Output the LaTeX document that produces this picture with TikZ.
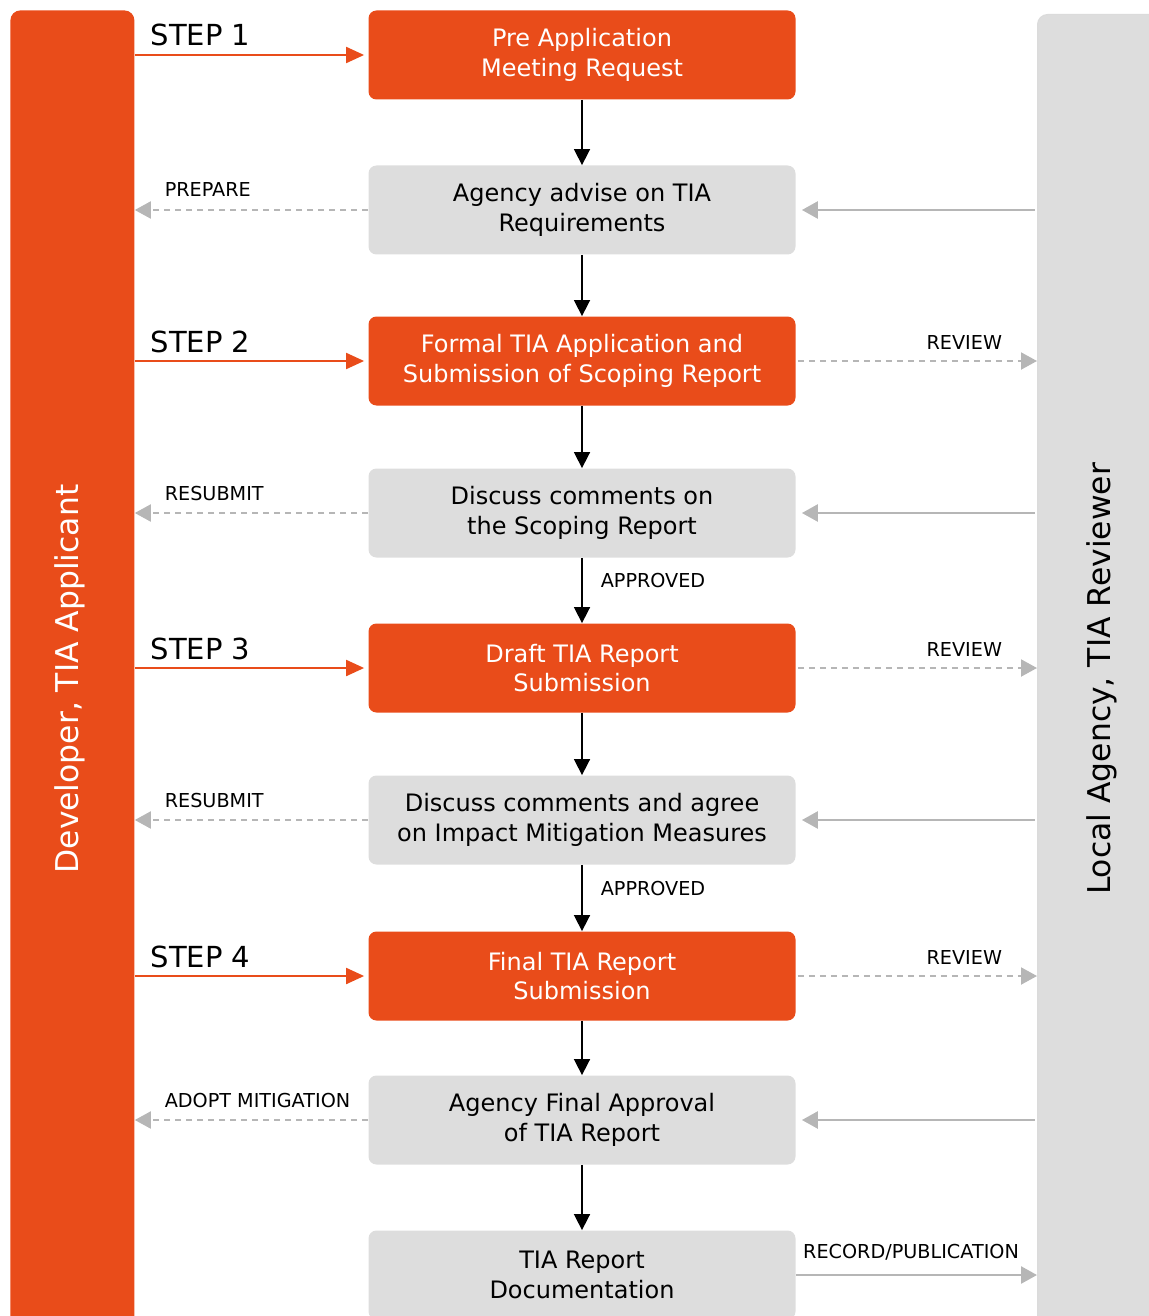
\documentclass[tikz,border=0pt]{standalone}
\usepackage{fontspec}
\setmainfont{DejaVu Sans}
\usetikzlibrary{arrows.meta,positioning}
\definecolor{tiaorange}{RGB}{233,76,26}
\definecolor{tiagray}{RGB}{221,221,221}
\definecolor{tiaarrow}{RGB}{182,182,182}
\tikzset{
  obox/.style={fill=tiaorange, text=white, rounded corners=4pt, minimum width=213.5pt, minimum height=44.5pt, inner sep=0pt, align=center, font=\fontsize{12}{14.75}\selectfont},
  gbox/.style={obox, fill=tiagray, text=black},
  bar/.style={anchor=north west, minimum width=62pt, minimum height=670pt, rounded corners=5pt},
  flow/.style={-{Triangle[length=8pt,width=8pt]}, line width=0.8pt, black},
  stepline/.style={-{Triangle[length=9pt,width=8pt]}, line width=1pt, tiaorange, shorten >=2pt},
  backline/.style={-{Triangle[length=8pt,width=8.5pt]}, line width=1pt, tiaarrow, dash pattern=on 3pt off 2.5pt},
  revline/.style={-{Triangle[length=8pt,width=8.5pt]}, line width=1.3pt, tiaarrow},
  steplbl/.style={font=\fontsize{14.5}{17}\selectfont, inner sep=0pt, text=black},
  lbl/.style={font=\fontsize{9.6}{11}\selectfont, inner sep=0pt, text=black},
  side/.style={rotate=90, font=\fontsize{15.7}{18}\selectfont, inner sep=0pt}
}
\begin{document}
\begin{tikzpicture}[x=0.5pt,y=-0.5pt]
  \useasboundingbox (0,0) rectangle (1149,1316);
  \clip (0,0) rectangle (1149,1316);
  % side bars
  \node[bar, fill=tiaorange] (dev) at (10,10) {};
  \node[bar, minimum width=64pt, fill=tiagray, draw=black!14, line width=0.5pt] (rev) at (1037,14) {};
  \node[side, text=white] (devtxt) at (70,679) {Developer, TIA Applicant};
  \node[side] (revtxt) at (1102,679) {Local Agency, TIA Reviewer};
  % process boxes
  \node[obox] (pre) at (582,55) {Pre Application\\Meeting Request};
  \node[gbox] (adv) at (582,210) {Agency advise on TIA\\Requirements};
  \node[obox] (formal) at (582,361) {Formal TIA Application and\\Submission of Scoping Report};
  \node[gbox] (scop) at (582,513) {Discuss comments on\\the Scoping Report};
  \node[obox] (draft) at (582,668) {Draft TIA Report\\Submission};
  \node[gbox] (mitig) at (582,820) {Discuss comments and agree\\on Impact Mitigation Measures};
  \node[obox] (final) at (582,976) {Final TIA Report\\Submission};
  \node[gbox] (appr) at (582,1120) {Agency Final Approval\\of TIA Report};
  \node[gbox] (doc) at (582,1275) {TIA Report\\Documentation};
  % main flow
  \foreach \a/\b in {pre/adv,adv/formal,formal/scop,draft/mitig,final/appr,appr/doc}{\draw[flow] (\a) -- (\b);}
  \draw[flow] (scop) -- node[lbl, right, xshift=9pt, pos=0.35]{APPROVED} (draft);
  \draw[flow] (mitig) -- node[lbl, right, xshift=9pt, pos=0.35]{APPROVED} (final);
  % developer side
  \foreach \b/\n in {pre/1,formal/2,draft/3,final/4}{
    \draw[stepline] (dev.east |- \b.west) -- (\b.west) node[steplbl, anchor=base west, pos=0, xshift=7.5pt, yshift=4.5pt]{STEP \n};}
  \foreach \b/\t in {adv/PREPARE,scop/RESUBMIT,mitig/RESUBMIT,appr/ADOPT MITIGATION}{
    \draw[backline] (\b.west) -- (dev.east |- \b.west) node[lbl, anchor=base west, pos=1, xshift=14.5pt, yshift=6.5pt]{\t};}
  % reviewer side
  \foreach \b in {adv,scop,mitig,appr}{\draw[revline, shorten <=1pt, shorten >=3pt] (rev.west |- \b.east) -- (\b.east);}
  \foreach \b in {formal,draft,final}{
    \draw[backline, shorten <=1pt] (\b.east) -- (rev.west |- \b.east) node[lbl, anchor=base east, pos=1, xshift=-17pt, yshift=6pt]{REVIEW};}
  \draw[revline] (doc.east) -- (rev.west |- doc.east) node[lbl, anchor=base west, pos=0, xshift=3pt, yshift=8.5pt]{RECORD/PUBLICATION};
\end{tikzpicture}
\end{document}
